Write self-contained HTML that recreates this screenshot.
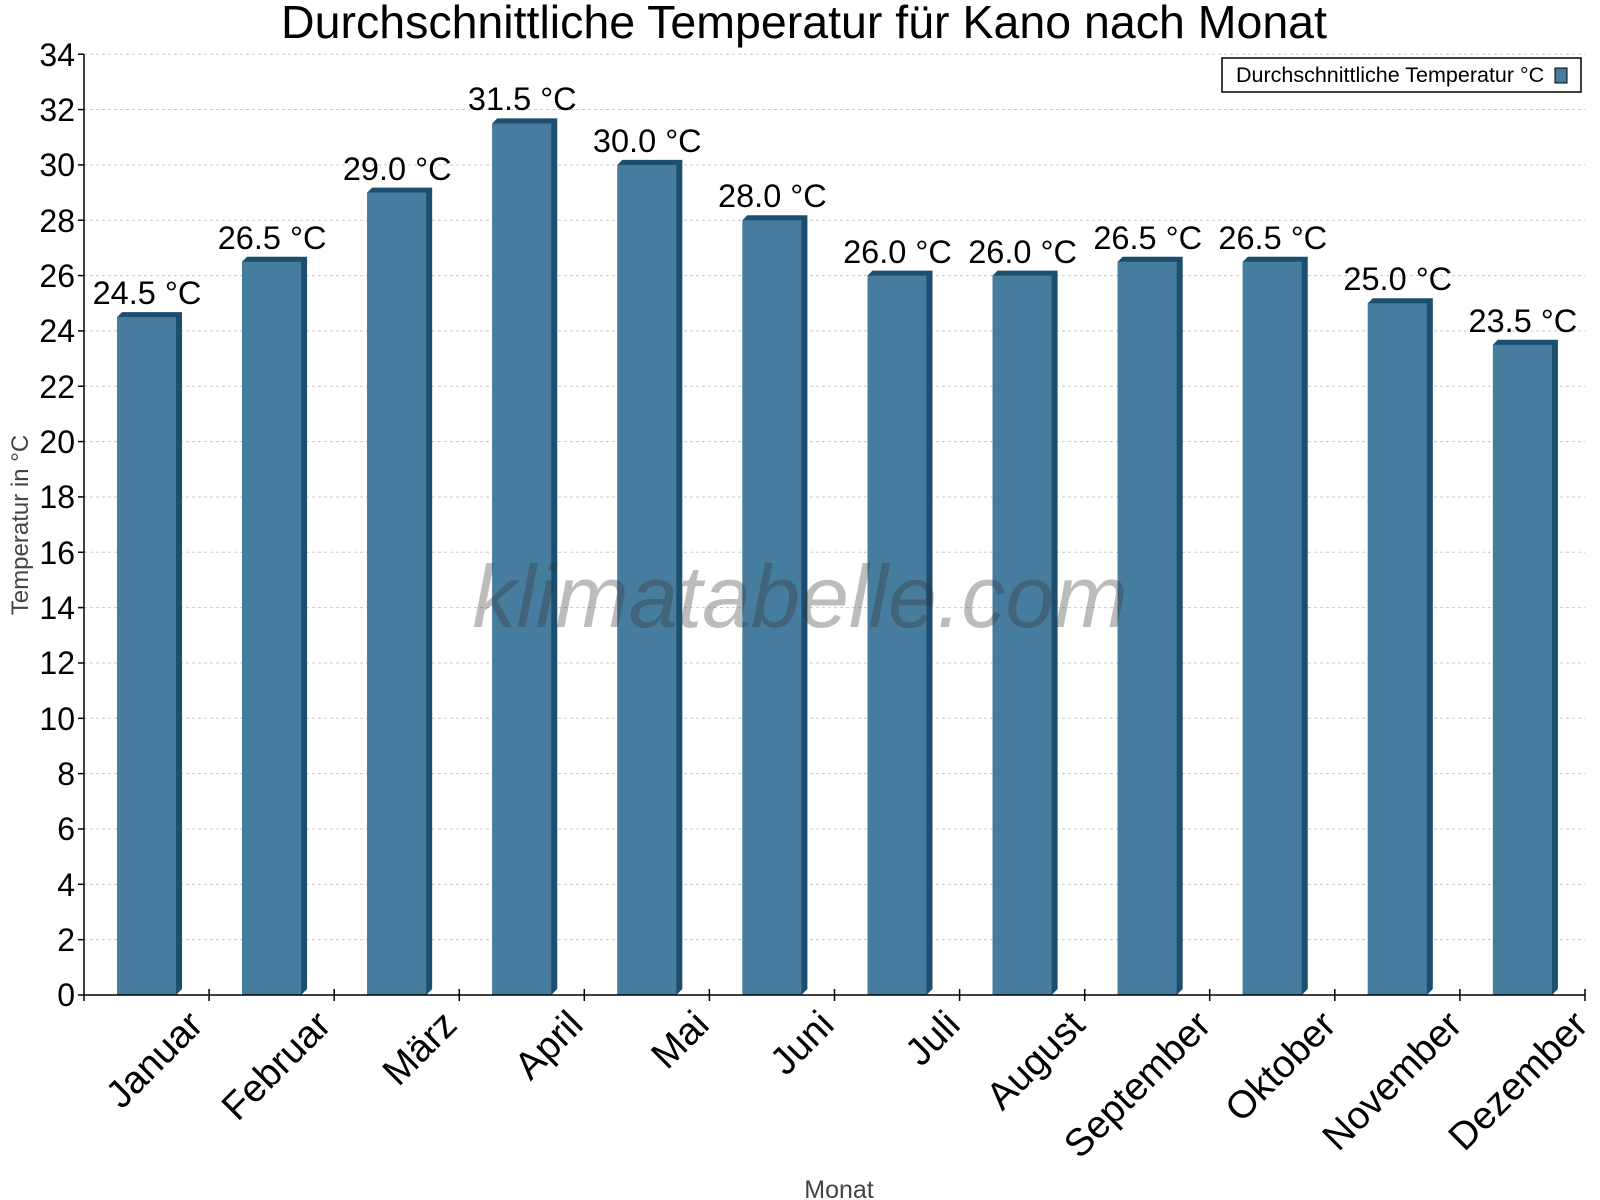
<!DOCTYPE html>
<html><head><meta charset="utf-8"><style>body{margin:0;background:#fff}svg{display:block}</style></head><body>
<svg width="1600" height="1200" xmlns="http://www.w3.org/2000/svg" font-family="Liberation Sans, Arial, sans-serif">
<rect width="1600" height="1200" fill="#fff"/>
<text x="804" y="38" font-size="46.5" text-anchor="middle" fill="#000">Durchschnittliche Temperatur für Kano nach Monat</text>
<g stroke="#c8c8c8" stroke-dasharray="3,3" stroke-width="1">
<line x1="84" x2="1585" y1="939.66" y2="939.66"/><line x1="84" x2="1585" y1="884.32" y2="884.32"/><line x1="84" x2="1585" y1="828.98" y2="828.98"/><line x1="84" x2="1585" y1="773.64" y2="773.64"/><line x1="84" x2="1585" y1="718.3" y2="718.3"/><line x1="84" x2="1585" y1="662.96" y2="662.96"/><line x1="84" x2="1585" y1="607.62" y2="607.62"/><line x1="84" x2="1585" y1="552.28" y2="552.28"/><line x1="84" x2="1585" y1="496.94" y2="496.94"/><line x1="84" x2="1585" y1="441.6" y2="441.6"/><line x1="84" x2="1585" y1="386.26" y2="386.26"/><line x1="84" x2="1585" y1="330.92" y2="330.92"/><line x1="84" x2="1585" y1="275.58" y2="275.58"/><line x1="84" x2="1585" y1="220.24" y2="220.24"/><line x1="84" x2="1585" y1="164.9" y2="164.9"/><line x1="84" x2="1585" y1="109.56" y2="109.56"/><line x1="84" x2="1585" y1="54.2" y2="54.2"/>
</g>
<g>
<polygon points="122,312.09 182,312.09 182,989 176,995 117,995 117,317.09" fill="#1b4e6f"/><rect x="117" y="317.09" width="59" height="677.91" fill="#467c9e"/>
<polygon points="247.08,256.75 307.08,256.75 307.08,989 301.08,995 242.08,995 242.08,261.75" fill="#1b4e6f"/><rect x="242.08" y="261.75" width="59" height="733.25" fill="#467c9e"/>
<polygon points="372.17,187.57 432.17,187.57 432.17,989 426.17,995 367.17,995 367.17,192.57" fill="#1b4e6f"/><rect x="367.17" y="192.57" width="59" height="802.43" fill="#467c9e"/>
<polygon points="497.25,118.4 557.25,118.4 557.25,989 551.25,995 492.25,995 492.25,123.4" fill="#1b4e6f"/><rect x="492.25" y="123.4" width="59" height="871.6" fill="#467c9e"/>
<polygon points="622.33,159.9 682.33,159.9 682.33,989 676.33,995 617.33,995 617.33,164.9" fill="#1b4e6f"/><rect x="617.33" y="164.9" width="59" height="830.1" fill="#467c9e"/>
<polygon points="747.42,215.24 807.42,215.24 807.42,989 801.42,995 742.42,995 742.42,220.24" fill="#1b4e6f"/><rect x="742.42" y="220.24" width="59" height="774.76" fill="#467c9e"/>
<polygon points="872.5,270.58 932.5,270.58 932.5,989 926.5,995 867.5,995 867.5,275.58" fill="#1b4e6f"/><rect x="867.5" y="275.58" width="59" height="719.42" fill="#467c9e"/>
<polygon points="997.58,270.58 1057.58,270.58 1057.58,989 1051.58,995 992.58,995 992.58,275.58" fill="#1b4e6f"/><rect x="992.58" y="275.58" width="59" height="719.42" fill="#467c9e"/>
<polygon points="1122.67,256.75 1182.67,256.75 1182.67,989 1176.67,995 1117.67,995 1117.67,261.75" fill="#1b4e6f"/><rect x="1117.67" y="261.75" width="59" height="733.25" fill="#467c9e"/>
<polygon points="1247.75,256.75 1307.75,256.75 1307.75,989 1301.75,995 1242.75,995 1242.75,261.75" fill="#1b4e6f"/><rect x="1242.75" y="261.75" width="59" height="733.25" fill="#467c9e"/>
<polygon points="1372.83,298.25 1432.83,298.25 1432.83,989 1426.83,995 1367.83,995 1367.83,303.25" fill="#1b4e6f"/><rect x="1367.83" y="303.25" width="59" height="691.75" fill="#467c9e"/>
<polygon points="1497.92,339.76 1557.92,339.76 1557.92,989 1551.92,995 1492.92,995 1492.92,344.76" fill="#1b4e6f"/><rect x="1492.92" y="344.76" width="59" height="650.24" fill="#467c9e"/>
</g>
<g font-size="32.5" text-anchor="middle" fill="#000">
<text x="147" y="304">24.5 °C</text><text x="272.1" y="249">26.5 °C</text><text x="397.2" y="180">29.0 °C</text><text x="522.3" y="110">31.5 °C</text><text x="647.3" y="152">30.0 °C</text><text x="772.4" y="207">28.0 °C</text><text x="897.5" y="263">26.0 °C</text><text x="1022.6" y="263">26.0 °C</text><text x="1147.7" y="249">26.5 °C</text><text x="1272.8" y="249">26.5 °C</text><text x="1397.8" y="290">25.0 °C</text><text x="1522.9" y="332">23.5 °C</text>
</g>
<text x="800" y="627" font-size="88" font-style="italic" text-anchor="middle" fill="#333" fill-opacity="0.33">klimatabelle.com</text>
<g stroke="#000" stroke-width="1.5">
<line x1="84" x2="84" y1="54.2" y2="1001"/><line x1="84" x2="1585" y1="995" y2="995"/>
<line x1="78" x2="84" y1="995" y2="995"/><line x1="78" x2="84" y1="939.66" y2="939.66"/><line x1="78" x2="84" y1="884.32" y2="884.32"/><line x1="78" x2="84" y1="828.98" y2="828.98"/><line x1="78" x2="84" y1="773.64" y2="773.64"/><line x1="78" x2="84" y1="718.3" y2="718.3"/><line x1="78" x2="84" y1="662.96" y2="662.96"/><line x1="78" x2="84" y1="607.62" y2="607.62"/><line x1="78" x2="84" y1="552.28" y2="552.28"/><line x1="78" x2="84" y1="496.94" y2="496.94"/><line x1="78" x2="84" y1="441.6" y2="441.6"/><line x1="78" x2="84" y1="386.26" y2="386.26"/><line x1="78" x2="84" y1="330.92" y2="330.92"/><line x1="78" x2="84" y1="275.58" y2="275.58"/><line x1="78" x2="84" y1="220.24" y2="220.24"/><line x1="78" x2="84" y1="164.9" y2="164.9"/><line x1="78" x2="84" y1="109.56" y2="109.56"/><line x1="78" x2="84" y1="54.2" y2="54.2"/>
<line x1="209.1" x2="209.1" y1="989" y2="1001"/><line x1="334.2" x2="334.2" y1="989" y2="1001"/><line x1="459.3" x2="459.3" y1="989" y2="1001"/><line x1="584.3" x2="584.3" y1="989" y2="1001"/><line x1="709.4" x2="709.4" y1="989" y2="1001"/><line x1="834.5" x2="834.5" y1="989" y2="1001"/><line x1="959.6" x2="959.6" y1="989" y2="1001"/><line x1="1084.7" x2="1084.7" y1="989" y2="1001"/><line x1="1209.7" x2="1209.7" y1="989" y2="1001"/><line x1="1334.8" x2="1334.8" y1="989" y2="1001"/><line x1="1459.9" x2="1459.9" y1="989" y2="1001"/><line x1="1585" x2="1585" y1="989" y2="1001"/>
</g>
<g font-size="32" text-anchor="end" fill="#000">
<text x="75" y="1006">0</text><text x="75" y="951">2</text><text x="75" y="896">4</text><text x="75" y="840">6</text><text x="75" y="785">8</text><text x="75" y="730">10</text><text x="75" y="674">12</text><text x="75" y="619">14</text><text x="75" y="564">16</text><text x="75" y="508">18</text><text x="75" y="453">20</text><text x="75" y="398">22</text><text x="75" y="342">24</text><text x="75" y="287">26</text><text x="75" y="232">28</text><text x="75" y="176">30</text><text x="75" y="121">32</text><text x="75" y="66">34</text>
</g>
<g font-size="38.5" text-anchor="end" fill="#000">
<text transform="translate(205,1027) rotate(-45)">Januar</text>
<text transform="translate(333,1027) rotate(-45)">Februar</text>
<text transform="translate(459,1027) rotate(-45)">März</text>
<text transform="translate(585,1027) rotate(-45)">April</text>
<text transform="translate(711,1027) rotate(-45)">Mai</text>
<text transform="translate(836,1027) rotate(-45)">Juni</text>
<text transform="translate(962,1027) rotate(-45)">Juli</text>
<text transform="translate(1087,1027) rotate(-45)">August</text>
<text transform="translate(1213,1027) rotate(-45)">September</text>
<text transform="translate(1338,1027) rotate(-45)">Oktober</text>
<text transform="translate(1464,1027) rotate(-45)">November</text>
<text transform="translate(1590,1027) rotate(-45)">Dezember</text>
</g>
<rect x="1222" y="58" width="359" height="34" fill="#fff" stroke="#000" stroke-width="1.5"/>
<text x="1236" y="82" font-size="21.5" fill="#000">Durchschnittliche Temperatur °C</text>
<rect x="1555" y="68" width="12" height="15" fill="#467c9e" stroke="#000" stroke-width="1"/>
<text transform="translate(28,525) rotate(-90)" font-size="24" text-anchor="middle" fill="#444">Temperatur in °C</text>
<text x="839" y="1198" font-size="25" text-anchor="middle" fill="#444">Monat</text>
</svg>
</body></html>
